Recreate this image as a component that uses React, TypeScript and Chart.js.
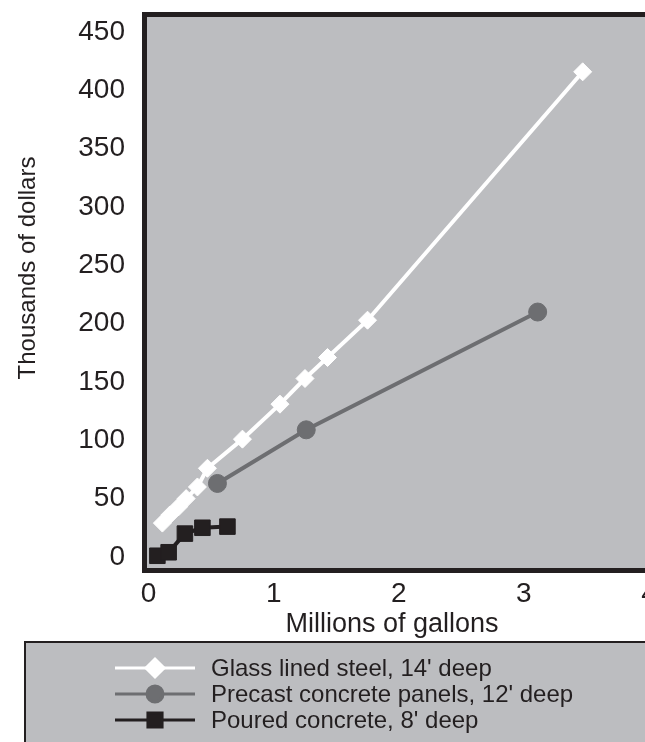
import React, { useEffect, useRef } from 'react';
import { Chart, registerables } from 'chart.js';
import { drawPoint } from 'chart.js/helpers';

Chart.register(...registerables);

// ---- data ----
const seriesLabels = ["Glass lined steel, 14' deep", "Precast concrete panels, 12' deep", "Poured concrete, 8' deep"];
const glassX = [0.11, 0.17, 0.24, 0.30, 0.39, 0.47, 0.75, 1.05, 1.25, 1.43, 1.75, 3.47];
const glassY = [29, 36, 43, 50, 60, 76, 101, 131, 153, 171, 203, 416];
const precastX = [0.55, 1.26, 3.11];
const precastY = [63, 109, 210];
const pouredX = [0.07, 0.16, 0.29, 0.43, 0.63];
const pouredY = [1, 4, 20, 25, 26];
const xTicks = [0, 1, 2, 3, 4];
const yTicks = [0, 50, 100, 150, 200, 250, 300, 350, 400, 450];
const xTitle = 'Millions of gallons';
const yTitle = 'Thousands of dollars';

const FONT = '"Liberation Sans", Arial, Helvetica, sans-serif';
const PLOT_BG = '#bcbdc0';
const DARK = '#231f20';
const GRAY = '#6d6e71';

const zip = (xs: number[], ys: number[]) => xs.map((x, i) => ({ x, y: ys[i] }));

const decorPlugin = {
  id: 'decor',
  beforeDraw(chart: any) {
    const { ctx, chartArea: a } = chart;
    ctx.save();
    ctx.fillStyle = PLOT_BG;
    ctx.fillRect(a.left, a.top, a.right - a.left, a.bottom - a.top);
    ctx.restore();
  },
  afterDraw(chart: any) {
    const { ctx, chartArea: a } = chart;
    ctx.save();
    // plot border
    ctx.strokeStyle = DARK;
    ctx.lineWidth = 5;
    ctx.strokeRect(a.left - 2.5, a.top - 2.5, a.right - a.left + 5, a.bottom - a.top + 5);

    // axis titles
    ctx.fillStyle = DARK;
    ctx.textAlign = 'center';
    ctx.textBaseline = 'middle';
    ctx.font = `27px ${FONT}`;
    ctx.fillText(xTitle, 392, 625);
    ctx.save();
    ctx.font = `24px ${FONT}`;
    ctx.translate(28, 268);
    ctx.rotate(-Math.PI / 2);
    ctx.fillText(yTitle, 0, 0);
    ctx.restore();

    // legend box
    ctx.fillStyle = PLOT_BG;
    ctx.fillRect(25, 642, 700, 200);
    ctx.strokeStyle = DARK;
    ctx.lineWidth = 2;
    ctx.strokeRect(25, 642, 700, 200);

    const rowsY = [668, 694, 720];
    chart.data.datasets.forEach((ds: any, i: number) => {
      const y = rowsY[i];
      ctx.strokeStyle = ds.borderColor;
      ctx.lineWidth = 3;
      ctx.beginPath();
      ctx.moveTo(115, y);
      ctx.lineTo(195, y);
      ctx.stroke();
      ctx.fillStyle = ds.pointBackgroundColor;
      ctx.strokeStyle = ds.pointBorderColor;
      drawPoint(ctx, { pointStyle: ds.pointStyle, rotation: 0, radius: ds.legendRadius, borderWidth: 1 }, 155, y);
      ctx.fillStyle = DARK;
      ctx.font = `24px ${FONT}`;
      ctx.textAlign = 'left';
      ctx.textBaseline = 'middle';
      ctx.fillText(ds.label, 211, y + 1);
    });
    ctx.restore();
  },
};

export default function App() {
  const ref = useRef<HTMLCanvasElement | null>(null);
  useEffect(() => {
    if (!ref.current) return;
    const chart = new Chart(ref.current, {
      type: 'line',
      data: {
        datasets: [
          {
            label: seriesLabels[0],
            data: zip(glassX, glassY),
            borderColor: '#ffffff',
            borderWidth: 4,
            pointStyle: 'rectRot',
            pointRadius: 9,
            pointBackgroundColor: '#ffffff',
            pointBorderColor: '#ffffff',
            pointBorderWidth: 1,
            tension: 0,
            legendRadius: 9,
          } as any,
          {
            label: seriesLabels[1],
            data: zip(precastX, precastY),
            borderColor: GRAY,
            borderWidth: 4,
            pointStyle: 'circle',
            pointRadius: 9,
            pointBackgroundColor: GRAY,
            pointBorderColor: GRAY,
            pointBorderWidth: 1,
            tension: 0,
            legendRadius: 8,
          } as any,
          {
            label: seriesLabels[2],
            data: zip(pouredX, pouredY),
            borderColor: DARK,
            borderWidth: 4,
            pointStyle: 'rect',
            pointRadius: 11,
            pointBackgroundColor: DARK,
            pointBorderColor: DARK,
            pointBorderWidth: 1,
            tension: 0,
            legendRadius: 10,
          } as any,
        ],
      },
      options: {
        animation: false,
        responsive: false,
        devicePixelRatio: 1,
        layout: { padding: { top: 17, left: 0, right: 36, bottom: 114 } },
        plugins: { legend: { display: false }, tooltip: { enabled: false } },
        scales: {
          x: {
            type: 'linear',
            min: -0.013,
            max: 4.12,
            grid: { display: false, drawTicks: false },
            border: { display: false },
            afterBuildTicks: (s: any) => { s.ticks = xTicks.map((v) => ({ value: v })); },
            afterFit: (s: any) => { s.height = 60; s.paddingLeft = 0; s.paddingRight = 0; },
            ticks: { color: DARK, font: { family: FONT, size: 28 }, padding: 9, maxRotation: 0, autoSkip: false },
          },
          y: {
            type: 'linear',
            min: -9.5,
            max: 463,
            grid: { display: false, drawTicks: false },
            border: { display: false },
            afterBuildTicks: (s: any) => { s.ticks = yTicks.map((v) => ({ value: v })); },
            afterFit: (s: any) => { s.width = 147; s.paddingTop = 0; s.paddingBottom = 0; },
            ticks: { color: DARK, font: { family: FONT, size: 28 }, padding: 22, autoSkip: false },
          },
        },
      } as any,
      plugins: [decorPlugin],
    });
    return () => chart.destroy();
  }, []);

  return (
    <div style={{ position: 'absolute', left: 0, top: 0, width: 645, height: 742, overflow: 'hidden', background: '#ffffff' }}>
      <canvas ref={ref} width={700} height={742} style={{ width: 700, height: 742, display: 'block' }} />
    </div>
  );
}
